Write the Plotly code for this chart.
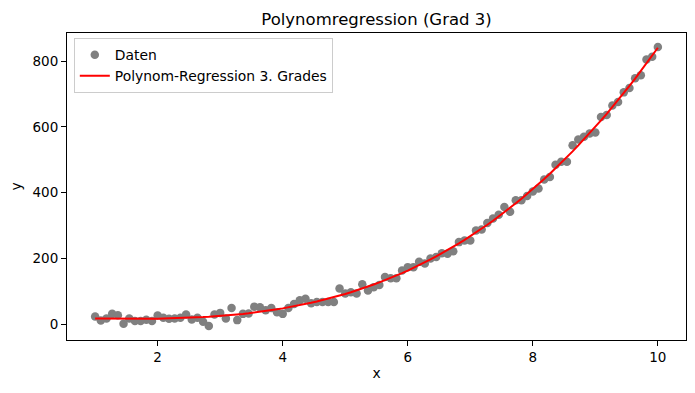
import numpy as np
import plotly.graph_objects as go

# x positions: 100 evenly spaced samples from 1 to 10
x_values = np.linspace(1, 10, 100)

# y values
y_values = [
    24, 12, 18, 32, 28, 2, 18, 10, 10, 14,
    10, 27, 20, 17, 18, 20, 30, 15, 20, 8,
    -5, 30, 35, 18, 50, 13, 32, 33, 54, 52,
    43, 50, 37, 32, 50, 62, 73, 78, 64, 68,
    68, 68, 68, 109, 94, 98, 94, 122, 103, 113,
    120, 144, 140, 140, 164, 174, 174, 190, 185, 200,
    205, 216, 215, 222, 250, 255, 255, 285, 288, 308,
    322, 333, 357, 342, 377, 377, 390, 404, 413, 440,
    448, 485, 494, 494, 544, 562, 570, 580, 583, 630,
    636, 665, 676, 705, 718, 748, 757, 805, 813, 843,
]

x_ticks = [2, 4, 6, 8, 10]
y_ticks = [0, 200, 400, 600, 800]

y_arr = np.array(y_values, dtype=float)
coefs = np.polyfit(x_values, y_arr, 3)
y_fit = np.polyval(coefs, x_values)

fig = go.Figure()
fig.add_trace(go.Scatter(
    x=x_values, y=y_arr, mode="markers", name="Daten",
    marker=dict(color="#808080", size=8.5, line=dict(width=0)),
))
fig.add_trace(go.Scatter(
    x=x_values, y=y_fit, mode="lines", name="Polynom-Regression 3. Grades",
    line=dict(color="red", width=2),
))

xmin, xmax = x_values.min(), x_values.max()
ymin = min(y_arr.min(), y_fit.min())
ymax = max(y_arr.max(), y_fit.max())
xpad = (xmax - xmin) * 0.05
ypad = (ymax - ymin) * 0.05

axis_common = dict(
    showgrid=False, zeroline=False, showline=True, linecolor="black",
    linewidth=1, mirror=True, ticks="outside", ticklen=5, tickcolor="black",
    tickfont=dict(size=13.5, color="black"), automargin=False,
)

# the page body has an 8px default margin, so the figure is drawn 8px smaller
fig.update_layout(
    width=687, height=385,
    margin=dict(l=59, r=9, t=25, b=53),
    paper_bgcolor="white", plot_bgcolor="white",
    font=dict(family="DejaVu Sans", size=13.9, color="black"),
    title=dict(text="Polynomregression (Grad 3)", xref="paper", x=0.5,
               xanchor="center", y=0.972, yanchor="middle",
               font=dict(size=16.5, color="black")),
    xaxis=dict(range=[xmin - xpad, xmax + xpad], tickvals=x_ticks,
               title=dict(text="x", font=dict(size=13.9), standoff=4), **axis_common),
    yaxis=dict(range=[ymin - ypad, ymax + ypad], tickvals=y_ticks,
               title=dict(text="y", font=dict(size=13.9), standoff=9), **axis_common),
    legend=dict(x=0.011, y=0.983, xanchor="left", yanchor="top",
                bgcolor="rgba(255,255,255,0.8)", bordercolor="#cccccc",
                borderwidth=1, font=dict(size=13.9), tracegroupgap=0),
    showlegend=True,
)

fig.write_html("out.html")
